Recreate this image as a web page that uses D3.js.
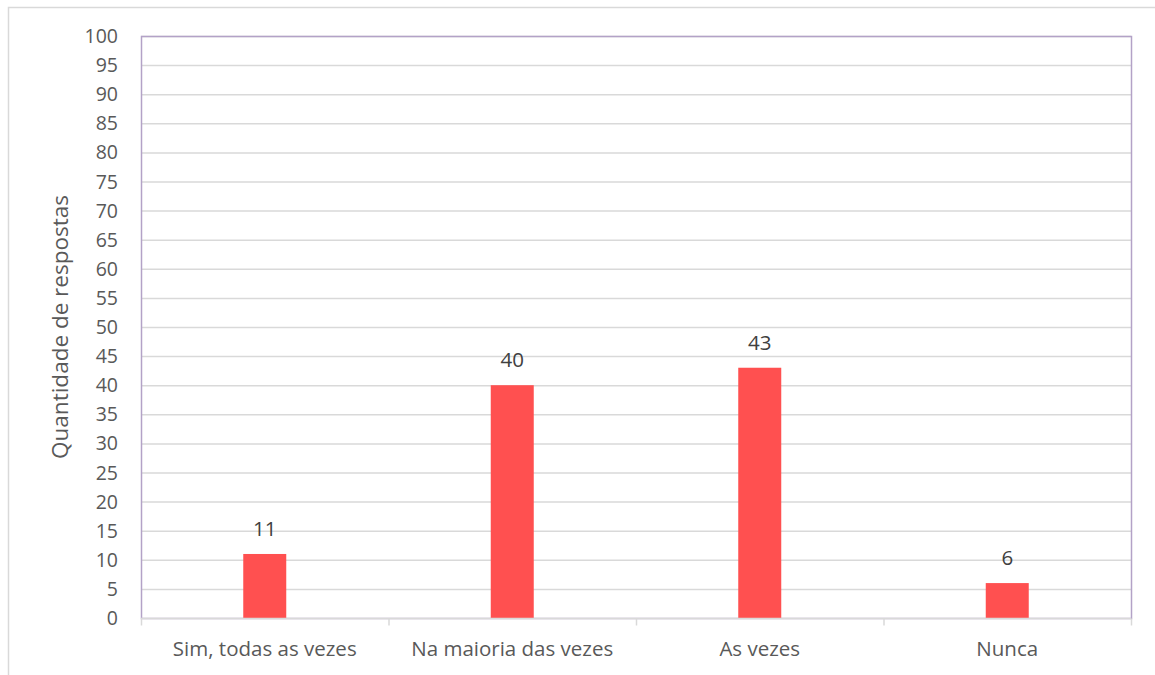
<!DOCTYPE html>
<html>
<head>
<meta charset="utf-8">
<script src="https://cdn.jsdelivr.net/npm/d3@7"></script>
<style>
  html, body { margin: 0; padding: 0; background: #fff; }
  svg { display: block; }
  text { font-family: "Open Sans", "Noto Sans", sans-serif; }
</style>
</head>
<body>
<svg id="chart" width="1155" height="675"></svg>
<script>
const categories = ["Sim, todas as vezes", "Na maioria das vezes", "As vezes", "Nunca"];
const values = [11, 40, 43, 6];
const yTicks = d3.range(0, 101, 5);
const yTitle = "Quantidade de respostas";

const svg = d3.select("#chart");
const W = 1155, H = 675;
const m = { left: 141, right: 24, top: 36, bottom: 57 };

// outer frame
svg.append("path")
  .attr("d", `M8.5,${H} L8.5,7.5 L${W},7.5`)
  .attr("fill", "none").attr("stroke", "#d9d9d9").attr("stroke-width", 1.5);

const x = d3.scaleBand().domain(categories).range([m.left, W - m.right]).paddingInner(0).paddingOuter(0);
const y = d3.scaleLinear().domain([0, 100]).range([H - m.bottom, m.top]);

// gridlines
svg.append("g").selectAll("line").data(yTicks.filter(d => d > 0)).join("line")
  .attr("x1", m.left).attr("x2", W - m.right)
  .attr("y1", d => y(d) + 0.5).attr("y2", d => y(d) + 0.5)
  .attr("stroke", "#d9d9d9").attr("stroke-width", 1.5);

// plot border (purple)
svg.append("rect")
  .attr("x", m.left + 0.5).attr("y", y(100) + 0.5)
  .attr("width", (W - m.right) - m.left).attr("height", y(0) - y(100))
  .attr("fill", "none").attr("stroke", "#b3a2c7").attr("stroke-width", 1.5);

// bars
const bw = 43;
svg.append("g").selectAll("rect").data(values).join("rect")
  .attr("x", (d, i) => x(categories[i]) + x.bandwidth() / 2 - bw / 2)
  .attr("y", d => y(d))
  .attr("width", bw)
  .attr("height", d => y(0) - y(d))
  .attr("fill", "#ff5050");

// x axis
const xAxis = svg.append("g").attr("transform", `translate(0,${y(0) + 0.5})`);
xAxis.append("line").attr("x1", m.left).attr("x2", W - m.right)
  .attr("stroke", "#d9d9d9").attr("stroke-width", 1.5);
const bounds = categories.map(c => x(c)).concat([W - m.right]);
xAxis.selectAll("line.tick").data(bounds).join("line").attr("class", "tick")
  .attr("x1", d => d + 0.5).attr("x2", d => d + 0.5).attr("y1", 0).attr("y2", 7)
  .attr("stroke", "#d9d9d9").attr("stroke-width", 1.5);
xAxis.selectAll("text").data(categories).join("text")
  .attr("x", d => x(d) + x.bandwidth() / 2)
  .attr("y", 37)
  .attr("text-anchor", "middle")
  .attr("fill", "#595959")
  .attr("font-size", 20.5)
  .text(d => d);

// y axis labels
svg.append("g").selectAll("text").data(yTicks).join("text")
  .attr("x", 118)
  .attr("y", d => y(d))
  .attr("dy", "0.36em")
  .attr("text-anchor", "end")
  .attr("fill", "#595959")
  .attr("font-size", 19.5)
  .text(d => d);

// value labels
svg.append("g").selectAll("text").data(values).join("text")
  .attr("x", (d, i) => x(categories[i]) + x.bandwidth() / 2)
  .attr("y", d => y(d) - 18)
  .attr("text-anchor", "middle")
  .attr("fill", "#404040")
  .attr("font-size", 20.5)
  .text(d => d);

// y title
svg.append("text")
  .attr("transform", `translate(68,${(y(0) + y(100)) / 2}) rotate(-90)`)
  .attr("text-anchor", "middle")
  .attr("fill", "#595959")
  .attr("font-size", 22.5)
  .text(yTitle);
</script>
</body>
</html>
